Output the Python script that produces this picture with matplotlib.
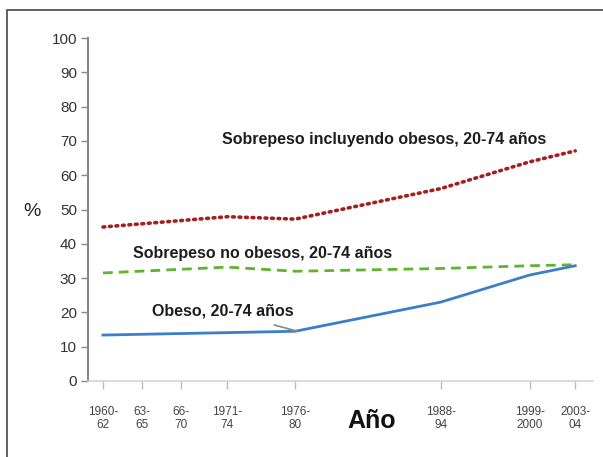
import numpy as np
import matplotlib
matplotlib.use('Agg')
import matplotlib.pyplot as plt
from matplotlib.patches import Rectangle

plt.rcParams['font.family'] = ['Liberation Sans', 'DejaVu Sans']

# survey periods (x positions in years) and tick labels
tick_x = [1961, 1964.5, 1968, 1972.2, 1978.3, 1991.4, 1999.4, 2003.5]
tick_lab = ['1960-\n62', '63-\n65', '66-\n70', '1971-\n74', '1976-\n80',
            '1988-\n94', '1999-\n2000', '2003-\n04']

# surveys with data for adults 20-74
anio = [1961, 1972.2, 1978.3, 1991.4, 1999.4, 2003.5]
sobrepeso_total = [44.9, 47.9, 47.2, 56.1, 63.9, 67.1]
sobrepeso_no_obeso = [31.5, 33.2, 32.0, 32.8, 33.6, 33.9]
obeso = [13.4, 14.1, 14.5, 23.0, 30.9, 33.6]

fig = plt.figure(figsize=(6.03, 4.57), dpi=100)
ax = fig.add_axes([88/603, 1-381/457, (593-88)/603, (381-38)/457])

ax.plot(anio, sobrepeso_total, color='#a3201e', lw=2.6, linestyle=(0, (0.5, 1.3)),
        dash_capstyle='round')
ax.plot(anio, sobrepeso_no_obeso, color='#5db52f', lw=2.0, linestyle=(0, (3.5, 2.2)))
ax.plot(anio, obeso, color='#3c7ec9', lw=2.0)

ax.set_xlim(1959.65, 2005.1)
ax.set_ylim(0, 100)
ax.set_yticks(range(0, 101, 10))
ax.set_xticks(tick_x)
ax.set_xticklabels(tick_lab, fontsize=8.5, color='#444444', linespacing=1.15)
ax.tick_params(axis='y', labelsize=11, colors='#888888', labelcolor='#333333',
               length=5, width=1, pad=3)
ax.tick_params(axis='x', colors='#bbbbbb', labelcolor='#444444', length=6,
               width=1, pad=12)

for s in ['top', 'right']:
    ax.spines[s].set_visible(False)
ax.spines['left'].set_color('#888888')
ax.spines['left'].set_linewidth(1.5)
ax.spines['bottom'].set_color('#cfd6dc')
ax.spines['bottom'].set_linewidth(1.2)

tc = '#1e1e1e'
ax.text(1986.3, 70.3, 'Sobrepeso incluyendo obesos, 20-74 años', fontsize=11.5,
        fontweight='bold', color=tc, ha='center', va='center')
ax.text(1975.4, 37.3, 'Sobrepeso no obesos, 20-74 años', fontsize=11.5,
        fontweight='bold', color=tc, ha='center', va='center')
ax.annotate('Obeso, 20-74 años', xy=(1978.5, 14.5), xytext=(1971.8, 20.4),
            fontsize=11.5, fontweight='bold', color=tc, ha='center', va='center',
            arrowprops=dict(arrowstyle='-', color='#888888', lw=1.2,
                            shrinkA=10, shrinkB=0))

fig.text(32/603, 1-211/457, '%', fontsize=14, color='#222222', ha='center', va='center')
fig.text(372/603, 1-421/457, 'Año', fontsize=18, fontweight='bold', color='#111111',
         ha='center', va='center')

fig.patches.append(Rectangle((7/603, -0.1), 1.2, 1-10/457+0.1, transform=fig.transFigure,
                             fill=False, edgecolor='#555555', lw=1.3))

fig.savefig('out.png', dpi=100)
